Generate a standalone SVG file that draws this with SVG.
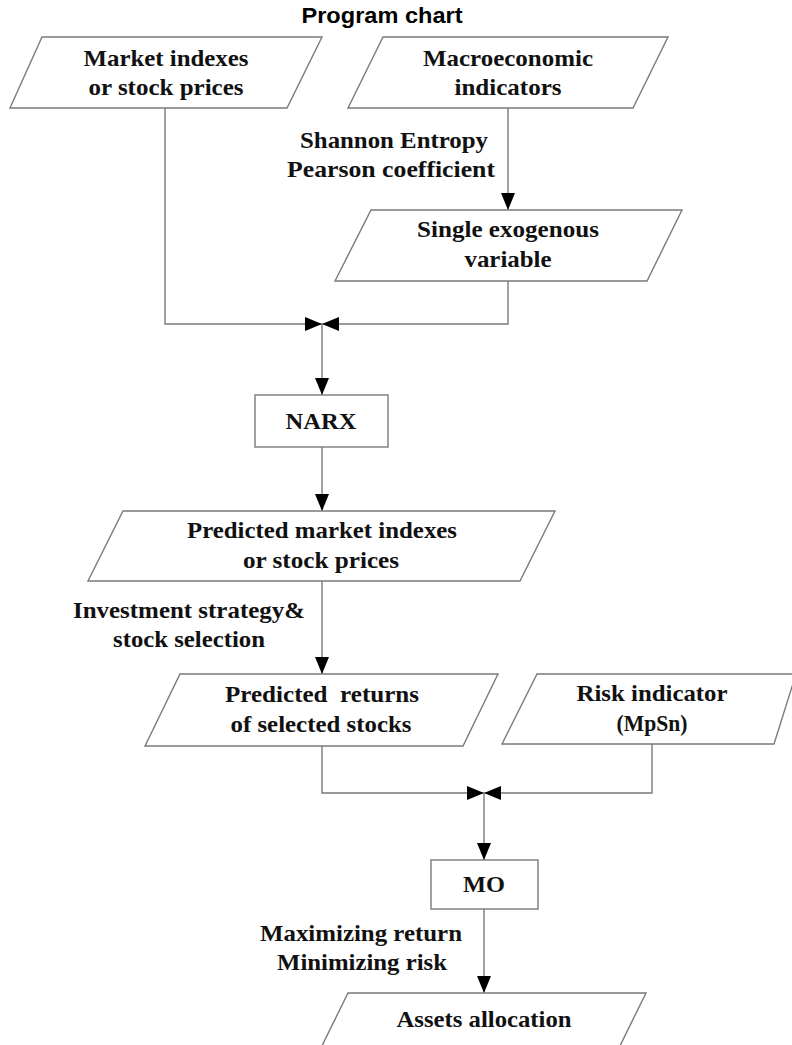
<svg xmlns="http://www.w3.org/2000/svg" width="792" height="1045" viewBox="0 0 792 1045">
<style>
.shape{fill:#fff;stroke:#7a7a7a;stroke-width:1.4}
.conn{fill:none;stroke:#7a7a7a;stroke-width:1.4}
.t{font-family:"Liberation Serif","Times New Roman",serif;font-weight:bold;font-size:23px;fill:#111;text-anchor:middle}
.title{font-family:"Liberation Sans",Arial,sans-serif;font-weight:bold;font-size:22px;fill:#000;text-anchor:middle}
</style>
<defs>
<marker id="arr" markerUnits="userSpaceOnUse" markerWidth="17" markerHeight="14" refX="17" refY="7" orient="auto">
<path d="M0,0 L17,7 L0,14 z" fill="#000"/>
</marker>
</defs>
<rect width="792" height="1045" fill="#fff"/>
<text class="title" x="382" y="23" textLength="161" lengthAdjust="spacingAndGlyphs">Program chart</text>

<g id="connectors">
<path class="conn" d="M508,108 V210" marker-end="url(#arr)"/>
<path class="conn" d="M165,108 V324 H322" marker-end="url(#arr)"/>
<path class="conn" d="M508,281 V324 H322" marker-end="url(#arr)"/>
<path class="conn" d="M322,324 V395" marker-end="url(#arr)"/>
<path class="conn" d="M322,447 V511" marker-end="url(#arr)"/>
<path class="conn" d="M322,581 V674" marker-end="url(#arr)"/>
<path class="conn" d="M322,746 V793 H484" marker-end="url(#arr)"/>
<path class="conn" d="M652,744 V793 H484" marker-end="url(#arr)"/>
<path class="conn" d="M484,793 V860" marker-end="url(#arr)"/>
<path class="conn" d="M484,909 V993" marker-end="url(#arr)"/>
</g>

<g id="market">
<polygon class="shape" points="42,37 322,37 287,108 10,108"/>
<text class="t" x="166" y="66" textLength="165" lengthAdjust="spacingAndGlyphs">Market indexes</text>
<text class="t" x="166" y="95" textLength="155" lengthAdjust="spacingAndGlyphs">or stock prices</text>
</g>

<g id="macro">
<polygon class="shape" points="383,37 668,37 633,108 348,108"/>
<text class="t" x="508" y="66" textLength="170" lengthAdjust="spacingAndGlyphs">Macroeconomic</text>
<text class="t" x="508" y="95" textLength="107" lengthAdjust="spacingAndGlyphs">indicators</text>
</g>

<g id="label-entropy">
<text class="t" x="394" y="148" textLength="188" lengthAdjust="spacingAndGlyphs">Shannon Entropy</text>
<text class="t" x="391" y="177" textLength="208" lengthAdjust="spacingAndGlyphs">Pearson coefficient</text>
</g>

<g id="single">
<polygon class="shape" points="371,210 682,210 647,281 335,281"/>
<text class="t" x="508" y="237" textLength="182" lengthAdjust="spacingAndGlyphs">Single exogenous</text>
<text class="t" x="508" y="267" textLength="87" lengthAdjust="spacingAndGlyphs">variable</text>
</g>

<g id="narx">
<rect class="shape" x="255" y="395" width="133" height="52"/>
<text class="t" x="321" y="429" textLength="71" lengthAdjust="spacingAndGlyphs">NARX</text>
</g>

<g id="predicted-market">
<polygon class="shape" points="123,511 555,511 520,581 88,581"/>
<text class="t" x="322" y="538" textLength="270" lengthAdjust="spacingAndGlyphs">Predicted market indexes</text>
<text class="t" x="321" y="568" textLength="156" lengthAdjust="spacingAndGlyphs">or stock prices</text>
</g>

<g id="label-investment">
<text class="t" x="189" y="618" textLength="232" lengthAdjust="spacingAndGlyphs">Investment strategy&amp;</text>
<text class="t" x="189" y="647" textLength="152" lengthAdjust="spacingAndGlyphs">stock selection</text>
</g>

<g id="predicted-returns">
<polygon class="shape" points="180,674 498,674 463,746 145,746"/>
<text class="t" x="322" y="702" textLength="194" lengthAdjust="spacingAndGlyphs" xml:space="preserve">Predicted  returns</text>
<text class="t" x="321" y="732" textLength="181" lengthAdjust="spacingAndGlyphs">of selected stocks</text>
</g>

<g id="risk">
<polygon class="shape" points="537,674 796,674 774,744 502,744"/>
<text class="t" x="652" y="701" textLength="151" lengthAdjust="spacingAndGlyphs">Risk indicator</text>
<text class="t" x="652" y="731" textLength="71" lengthAdjust="spacingAndGlyphs">(MpSn)</text>
</g>

<g id="mo">
<rect class="shape" x="431" y="860" width="107" height="49"/>
<text class="t" x="484" y="892" textLength="42" lengthAdjust="spacingAndGlyphs">MO</text>
</g>

<g id="label-mo">
<text class="t" x="361" y="941" textLength="202" lengthAdjust="spacingAndGlyphs">Maximizing return</text>
<text class="t" x="362" y="970" textLength="170" lengthAdjust="spacingAndGlyphs">Minimizing risk</text>
</g>

<g id="assets">
<polygon class="shape" points="348,993 646,993 611,1064 313,1064"/>
<text class="t" x="484" y="1027" textLength="175" lengthAdjust="spacingAndGlyphs">Assets allocation</text>
</g>
</svg>
